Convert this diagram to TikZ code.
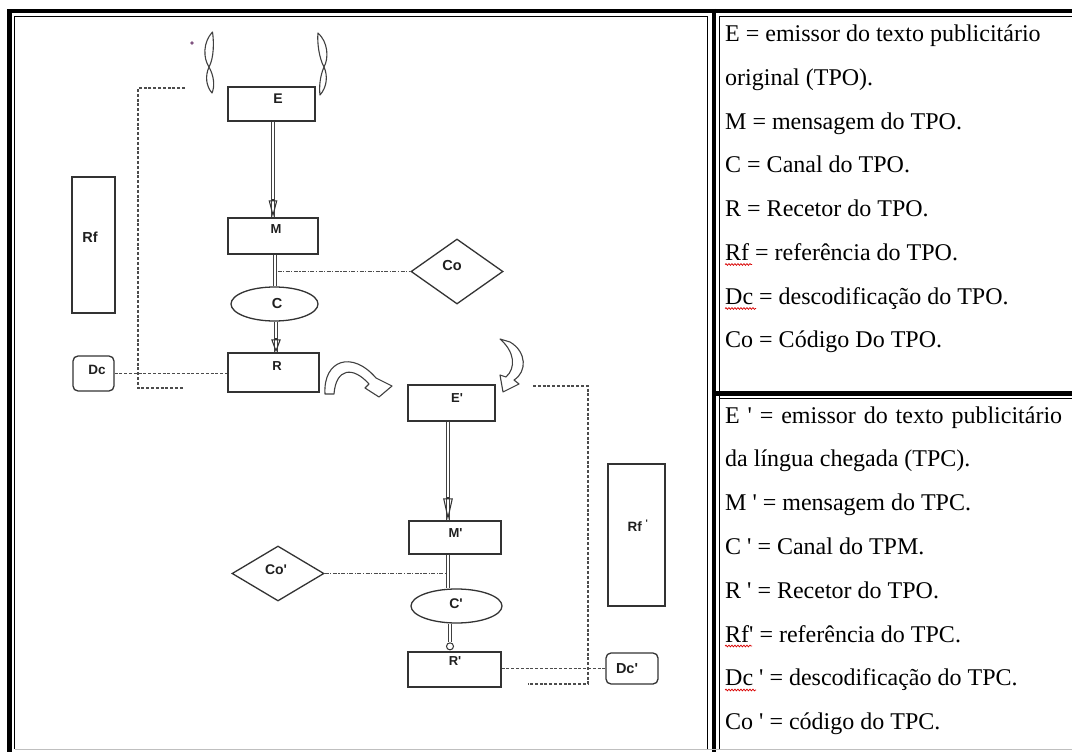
\documentclass[tikz,border=0pt]{standalone}
\usepackage{fontspec}
\setmainfont{Liberation Serif}
\newfontfamily\arialfont{Liberation Sans}
\usetikzlibrary{shapes.geometric,arrows.meta,decorations.pathmorphing,calc}
\begin{document}
\begin{tikzpicture}[x=1pt,y=-1pt,
  ink/.style={draw=black!80, line width=1.3pt},
  box/.style={ink, rectangle, inner sep=0pt, fill=white},
  lbl/.style={font=\arialfont\bfseries\fontsize{#1}{15}\selectfont, text=black!88, inner sep=0pt},
  lbl/.default=13,
  dshaft/.style={draw=black!75, double=white, double distance=2.6pt, line width=1.05pt},
  ohead/.style={draw=black!80, line width=1.05pt, -{Triangle[open,length=#1]}},
  dotline/.style={draw=black!70, line width=1.2pt, dash pattern=on 3pt off 1.8pt},
  dashdot/.style={draw=black!70, line width=1.1pt, dash pattern=on 4pt off 1.5pt on 1.2pt off 1.5pt},
  legend/.style={font=\fontsize{24}{28}\selectfont, anchor=base west, inner sep=0pt},
  hollow/.style={draw=black!75, line width=1.1pt, fill=white, line join=round},
  squig/.style={draw=red!85!black, line width=0.7pt, decorate, decoration={snake, amplitude=0.9pt, segment length=3pt}},
  frame/.style={draw=black, line width=#1},
]
\useasboundingbox (0,0) rectangle (1072,752);
\fill[white] (0,0) rectangle (1072,752);

% ---------- table frame ----------
\draw[frame=4.5pt] (1072,11) -- (9.5,11) -- (9.5,752);
\draw[frame=0.9pt] (14.5,749) -- (14.5,16.5) -- (707,16.5) -- (707,749);
\draw[frame=4pt] (713.8,9) -- (713.8,752);
\draw[frame=0.9pt] (719.3,749) -- (719.3,16.5) -- (1072,16.5);
\draw[frame=5pt] (711.8,393.5) -- (1072,393.5);
\draw[frame=0.9pt] (719.3,398.5) -- (1072,398.5);
\draw[draw=black!25, line width=0.8pt] (14.5,749.5) -- (1072,749.5);

% ---------- diagram nodes (top chain) ----------
\node[box, minimum width=87, minimum height=34] (E) at (271.5,104) {};
\node[box, minimum width=90, minimum height=36] (M) at (273,236) {};
\node[ink, ellipse, fill=white, inner sep=0pt, minimum width=87, minimum height=34] (C) at (274.5,304) {};
\node[box, minimum width=91, minimum height=39] (R) at (273.5,372.5) {};
\node[box, minimum width=43, minimum height=136] (Rf) at (93.5,245) {};
\node[box, rounded corners=5pt, minimum width=41, minimum height=35] (Dc) at (93.5,373.5) {};
\node[ink, diamond, fill=white, inner sep=0pt, minimum width=92, minimum height=65] (Co) at (457,271.5) {};

% ---------- diagram nodes (bottom chain) ----------
\node[box, minimum width=87, minimum height=36] (Ep) at (451.5,403) {};
\node[box, minimum width=92, minimum height=33] (Mp) at (455,537.5) {};
\node[ink, ellipse, fill=white, inner sep=0pt, minimum width=91, minimum height=34] (Cp) at (456.5,606) {};
\node[box, minimum width=93, minimum height=35] (Rp) at (454.5,669.5) {};
\node[ink, diamond, fill=white, inner sep=0pt, minimum width=92, minimum height=55] (Cop) at (278,573.5) {};
\node[box, minimum width=57, minimum height=142] (Rfp) at (636.5,535) {};
\node[box, rounded corners=5pt, minimum width=52, minimum height=31] (Dcp) at (632,668.5) {};

% ---------- labels ----------
\node[lbl=14] (lE) at (278,98.5) {E};
\node[lbl=13] (lM) at (276,229) {M};
\node[lbl=14.5] (lC) at (277,304) {C};
\node[lbl=13] (lR) at (277,366) {R};
\node[lbl=14.5] (lCo) at (452,266) {Co};
\node[lbl=14.5] (lRf) at (90,237) {Rf};
\node[lbl=13.5] (lDc) at (97,370) {Dc};
\node[lbl=13] (lEp) at (457,398) {E\textquotesingle};
\node[lbl=13] (lMp) at (455.5,533) {M\textquotesingle};
\node[lbl=14] (lCp) at (456,604) {C\textquotesingle};
\node[lbl=13] (lRp) at (455,661) {R\textquotesingle};
\node[lbl=14] (lCop) at (276,570) {Co\textquotesingle};
\node[lbl=13.5] (lRfp) at (638,526) {Rf \textsuperscript{\textquotesingle}};
\node[lbl=14.5] (lDcp) at (627,669) {Dc\textquotesingle};

% ---------- connectors top ----------
\coordinate (emEnd) at ([xshift=1.5]E.south |- M.north);
\draw[dshaft] ([xshift=1.5]E.south) -- (emEnd);
\draw[ohead={17pt 0 0,width=8.5pt}] ($(emEnd)+(0,-18)$) -- (emEnd);
\draw[dshaft] ([xshift=2]M.south) -- ([xshift=2]M.south |- C.north);
\draw[dashdot] ([xshift=4.5]M.south |- Co.west) -- (Co.west);
\coordinate (crEnd) at ([xshift=1.5]C.south |- R.north);
\draw[dshaft] ([xshift=1.5]C.south) -- (crEnd);
\draw[ohead={13pt 0 0,width=9.5pt}] ($(crEnd)+(0,-14)$) -- (crEnd);
\draw[dotline] (Dc.east) -- (Dc.east -| R.west);

\coordinate (a1) at (185,88);
\coordinate (a2) at (138,88);
\coordinate (a3) at (138,388);
\coordinate (a4) at (184,388);
\draw[dotline] (a1) -- (a2) -- (a3) -- (a4);

% ---------- connectors bottom ----------
\coordinate (epEnd) at ([xshift=-3.5]Ep.south |- Mp.north);
\draw[dshaft] ([xshift=-3.5]Ep.south) -- (epEnd);
\draw[ohead={22pt 0 0,width=9.5pt}] ($(epEnd)+(0,-23)$) -- (epEnd);
\draw[dshaft] ([xshift=-7]Mp.south) -- ([xshift=-7]Mp.south |- Cp.north);
\draw[dashdot] (Cop.east) -- ([xshift=-9]Mp.south |- Cop.east);
\node[draw=black!80, line width=1pt, circle, inner sep=0pt, minimum size=7pt, fill=white] (knob) at ([xshift=-4.5,yshift=5]Rp.north) {};
\draw[dshaft] ([xshift=-6.5]Cp.south) -- (knob.north);
\draw[dotline] (Rp.east |- Dcp.west) -- (Dcp.west);

\coordinate (b1) at (533,386);
\coordinate (b2) at (588,386);
\coordinate (b3) at (588,684);
\coordinate (b4) at (528,684);
\draw[dotline] (b1) -- (b2) -- (b3) -- (b4);

% ---------- braces ----------
\draw[hollow] (212.5,32) .. controls (203,42) and (203,58) .. (209,67) .. controls (214,58) and (214,42) .. (212.5,32) -- cycle;
\draw[hollow] (209,67) .. controls (205,76) and (206,86) .. (212,93) .. controls (215,86) and (214,76) .. (209,67) -- cycle;
\draw[hollow] (318,33) .. controls (328,42) and (329,58) .. (324,67) .. controls (319,58) and (317,42) .. (318,33) -- cycle;
\draw[hollow] (324,67) .. controls (328,76) and (327,87) .. (320,95) .. controls (319,87) and (320,76) .. (324,67) -- cycle;
\fill[violet!35!gray] (192,43) circle (1.8pt);

% ---------- curved arrows ----------
\draw[hollow] (325,394) .. controls (323,360) and (352,350) .. (376,378)
  -- (392,386) -- (379,397) -- (365,388) -- (369,384)
  .. controls (353,366) and (336,368) .. (334,394) -- cycle;
\draw[hollow] (500,339) -- (510,342) .. controls (527,352) and (527,372) .. (514,380)
  -- (519,384) -- (503,392) -- (500,375) -- (506,377)
  .. controls (516,368) and (515,352) .. (500,339) -- cycle;

% ---------- legend ----------
\node[legend] (t1) at (725,41.5) {E = emissor do texto publicitário};
\node[legend] (t2) at (725,85.3) {original (TPO).};
\node[legend] (t3) at (725,129) {M = mensagem do TPO.};
\node[legend] (t4) at (725,172.8) {C = Canal do TPO.};
\node[legend] (t5) at (725,216.6) {R = Recetor do TPO.};
\node[legend] (t6) at (725,260.4) {Rf = referência do TPO.};
\node[legend] (t7) at (725,304.2) {Dc = descodificação do TPO.};
\node[legend] (t8) at (725,347.5) {Co = Código Do TPO.};

\node[legend] (u1) at (725,423) {\makebox[337pt][s]{E \textquotesingle{} = emissor do texto publicitário}};
\node[legend] (u2) at (725,466.8) {da língua chegada (TPC).};
\node[legend] (u3) at (725,510.6) {M \textquotesingle{} = mensagem do TPC.};
\node[legend] (u4) at (725,554.4) {C \textquotesingle{} = Canal do TPM.};
\node[legend] (u5) at (725,598.2) {R \textquotesingle{} = Recetor do TPO.};
\node[legend] (u6) at (725,642) {Rf\textquotesingle{} = referência do TPC.};
\node[legend] (u7) at (725,685.8) {Dc \textquotesingle{} = descodificação do TPC.};
\node[legend] (u8) at (725,729.6) {Co \textquotesingle{} = código do TPC.};

\draw[squig] (725,264.5) -- (752,264.5);
\draw[squig] (725,308.5) -- (756,308.5);
\draw[squig] (725,646) -- (752,646);
\draw[squig] (725,690) -- (756,690);
\end{tikzpicture}
\end{document}
